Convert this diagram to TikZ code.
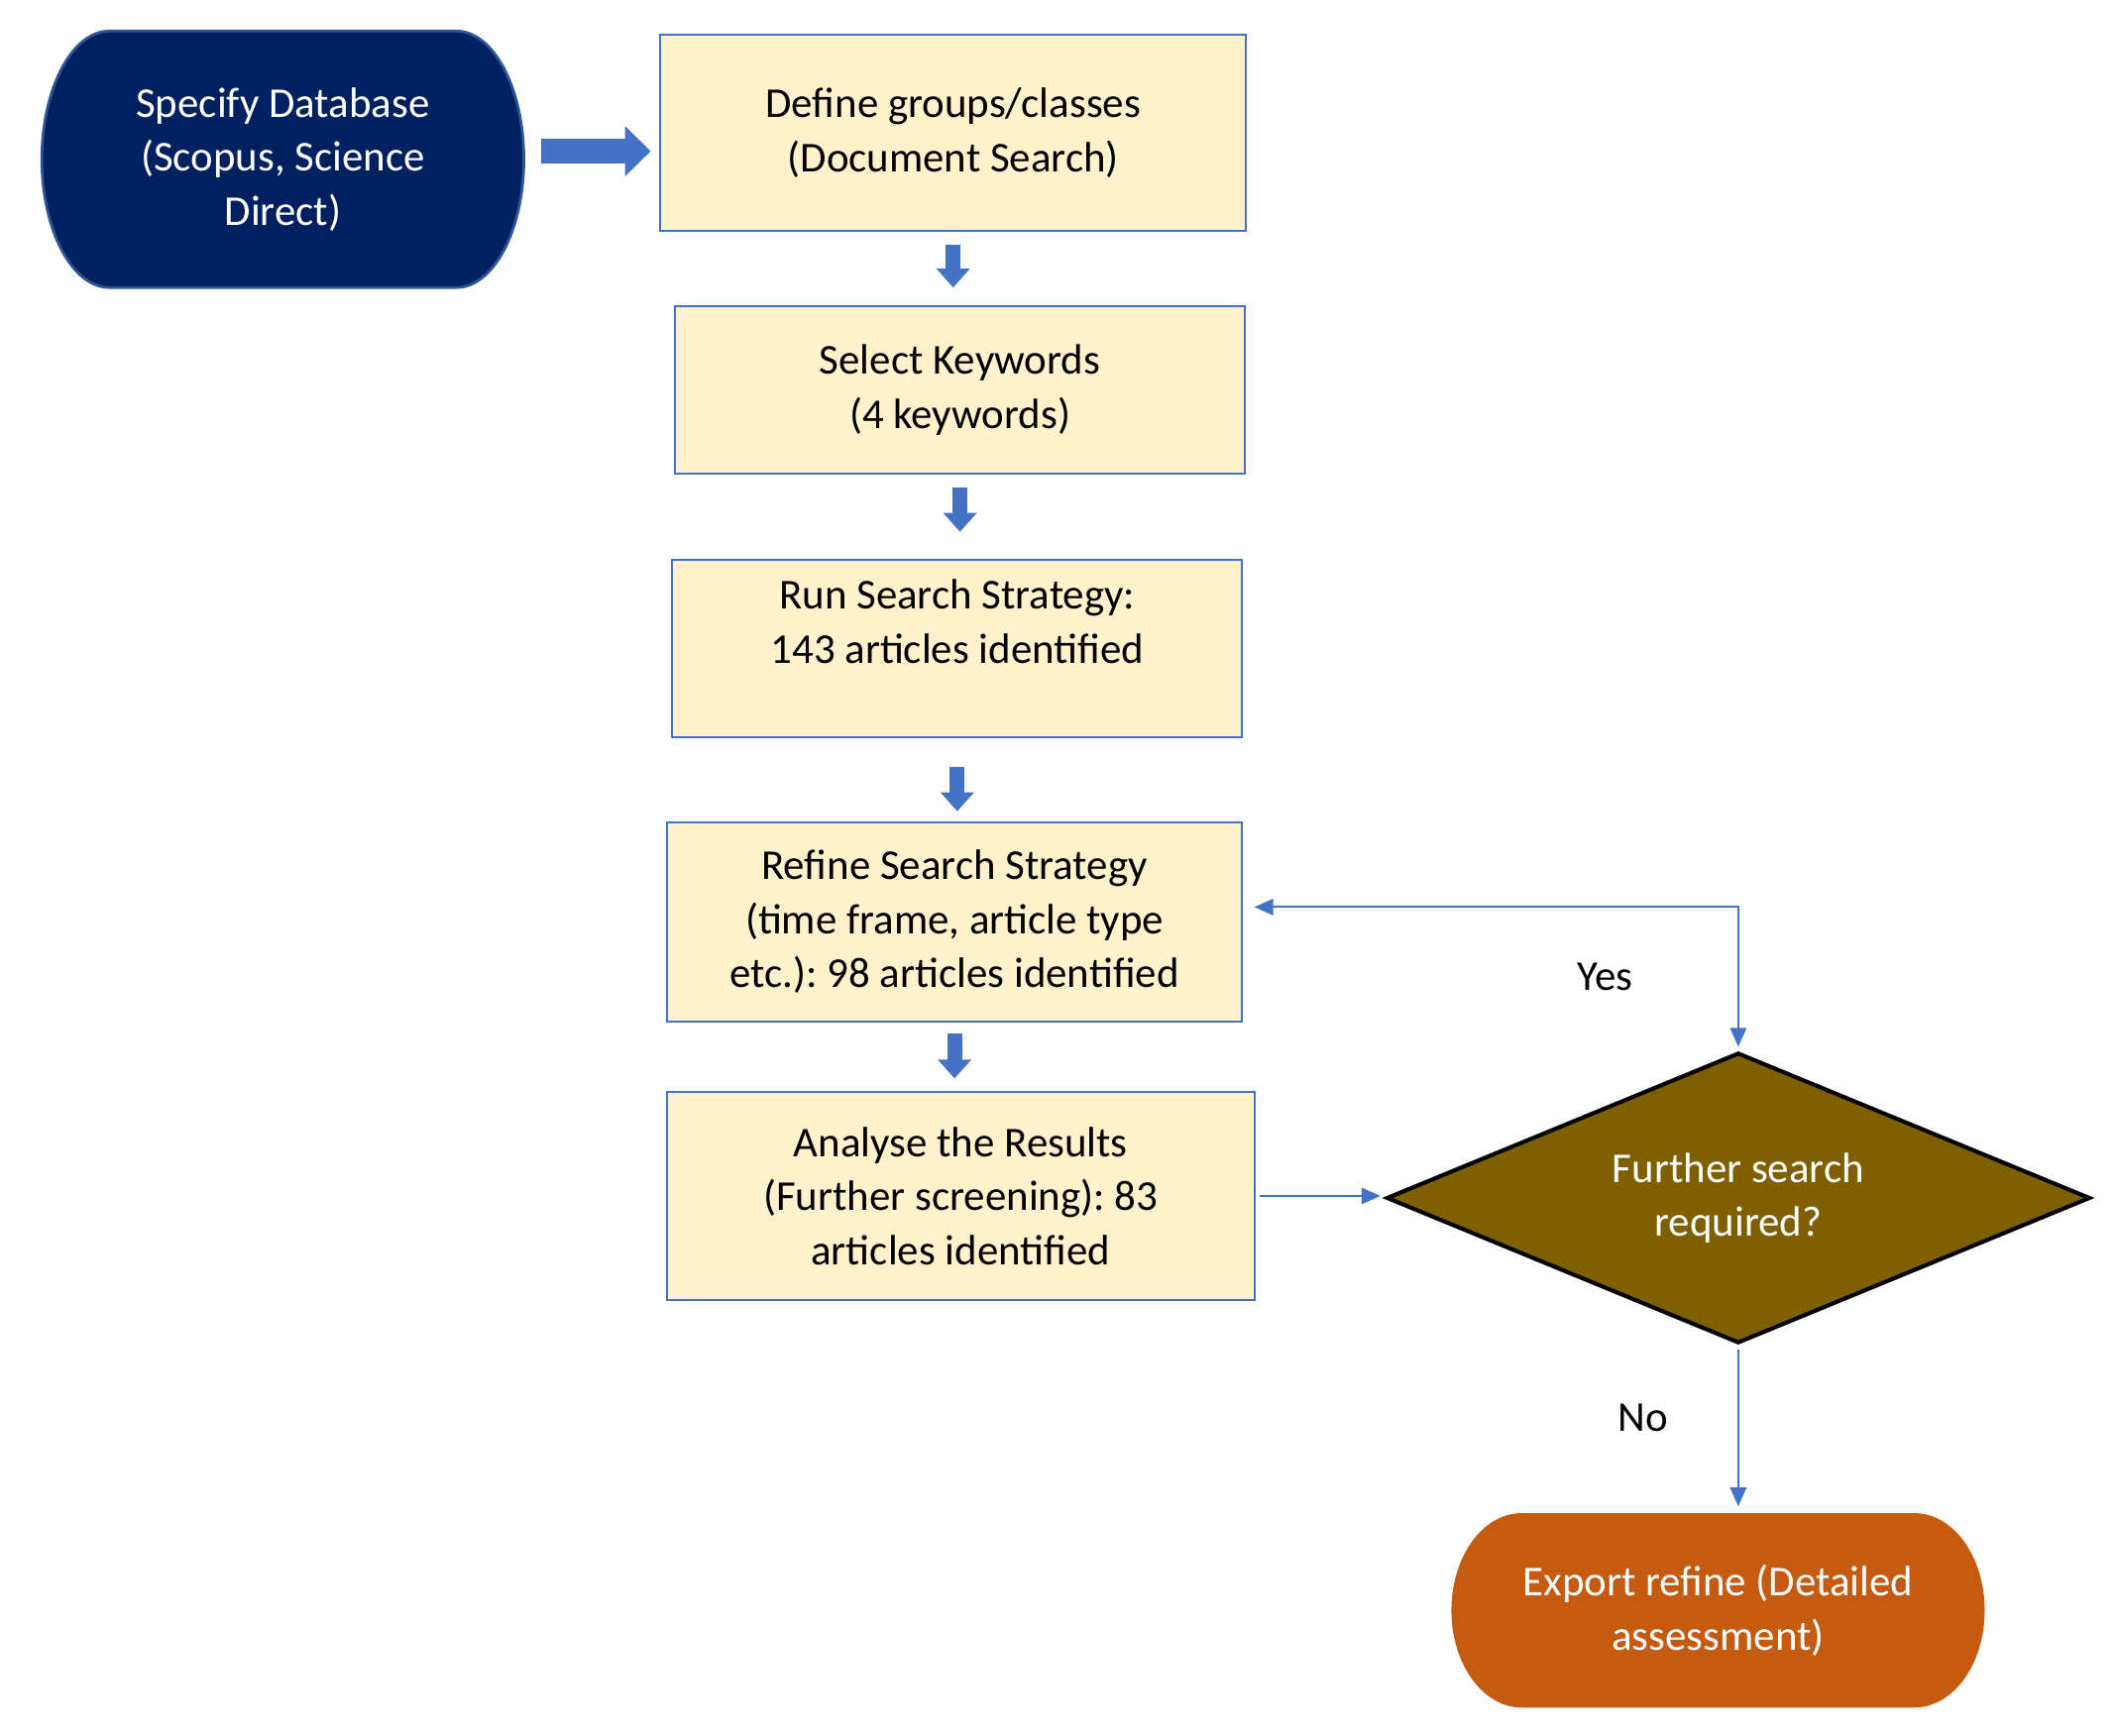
\documentclass[tikz,border=0pt]{standalone}
\usepackage{fontspec}
\setmainfont{Carlito}
\usetikzlibrary{shapes.geometric,arrows.meta,backgrounds}
\frenchspacing

\definecolor{navy}{HTML}{002060}
\definecolor{navyedge}{HTML}{2F5597}
\definecolor{cream}{HTML}{FFF2CC}
\definecolor{boxedge}{HTML}{4472C4}
\definecolor{olive}{HTML}{7F6000}
\definecolor{rust}{HTML}{C55A11}
\definecolor{arrowblue}{HTML}{4472C4}

\tikzset{
  stepbox/.style={draw=boxedge, fill=cream, line width=1.5pt, align=center, inner sep=0pt, outer sep=0pt},
  terminal/.style={align=center, text=white, inner sep=0pt, outer sep=0pt},
  decision/.style={diamond, aspect=2.4, draw=black, fill=olive, line width=3pt, text=white, align=center, inner sep=0pt, outer sep=0pt},
  bigarrow/.style={draw=arrowblue, line width=11pt, -{Triangle[length=14pt,width=24pt]}},
  link/.style={draw=arrowblue, line width=1.5pt, -{Triangle[length=14pt,width=12pt]}},
}

\begin{document}
\begin{tikzpicture}[x=1pt, y=-1pt, font=\fontsize{31.5}{40}\selectfont\frenchspacing]
\useasboundingbox (-1,-1) rectangle (1567,1285);
% boxes
\node[terminal, minimum width=357pt, minimum height=190pt] (db) at (208.5,117) {Specify Database\\(Scopus, Science\\Direct)};
\node[stepbox, minimum width=434pt, minimum height=145pt] (define) at (705,97.5) {Define groups/classes\\(Document Search)};
\node[stepbox, minimum width=422pt, minimum height=124pt] (select) at (710,288) {Select Keywords\\(4 keywords)};
\node[stepbox, minimum width=422pt, minimum height=131pt] (run) at (708,479.5) {Run Search Strategy:\\143 articles identified\\\mbox{}};
\node[stepbox, minimum width=426pt, minimum height=148pt] (refine) at (706,682) {Refine Search Strategy\\(time frame, article type\\etc.): 98 articles identified};
\node[stepbox, minimum width=435pt, minimum height=154pt] (analyse) at (710.5,885) {Analyse the Results\\(Further screening): 83\\articles identified};
\node[decision, minimum width=520pt, minimum height=214pt] (dec) at (1286.5,886.5) {Further search\\required?};
\node[terminal, minimum width=395pt, minimum height=144pt] (export) at (1271.5,1192) {Export refine (Detailed\\assessment)};
\node (yes) at (1188,723) {Yes};
\node (no) at (1216,1049) {No};
% rounded ends
\begin{scope}[on background layer]
\filldraw[fill=navy, draw=navyedge, line width=2pt] ([xshift=50pt]db.north west) -- ([xshift=-50pt]db.north east) arc[start angle=90, end angle=-90, x radius=50pt, y radius=95pt] -- ([xshift=50pt]db.south west) arc[start angle=270, end angle=90, x radius=50pt, y radius=95pt] -- cycle;
\fill[rust] ([xshift=52pt]export.north west) -- ([xshift=-52pt]export.north east) arc[start angle=90, end angle=-90, x radius=52pt, y radius=72pt] -- ([xshift=52pt]export.south west) arc[start angle=270, end angle=90, x radius=52pt, y radius=72pt] -- cycle;
\end{scope}
% arrows
\draw[bigarrow, line width=18pt, -{Triangle[length=19pt,width=36pt]}, shorten <=13pt, shorten >=7pt] ([yshift=6pt]db.east) -- ([yshift=6pt]db.east -| define.west);
\draw[bigarrow, shorten <=10pt, shorten >=14pt] (define.south) -- (define.south |- select.north);
\draw[bigarrow, shorten <=10pt, shorten >=21pt] (select.south) -- (select.south |- run.north);
\draw[bigarrow, shorten <=22pt, shorten >=8pt] (run.south) -- (run.south |- refine.north);
\draw[bigarrow, shorten <=9pt, shorten >=10pt] (refine.south) -- (refine.south |- analyse.north);
\draw[link, {Triangle[length=14pt,width=12pt]}-{Triangle[length=14pt,width=12pt]}, shorten <=9pt, shorten >=5pt] ([yshift=11pt]refine.east) -| (dec.north);
\draw[link, shorten <=4pt, shorten >=5pt] (analyse.east) -- (analyse.east -| dec.west);
\draw[link, shorten <=5pt, shorten >=5pt] (dec.south) -- (dec.south |- export.north);
\end{tikzpicture}
\end{document}
